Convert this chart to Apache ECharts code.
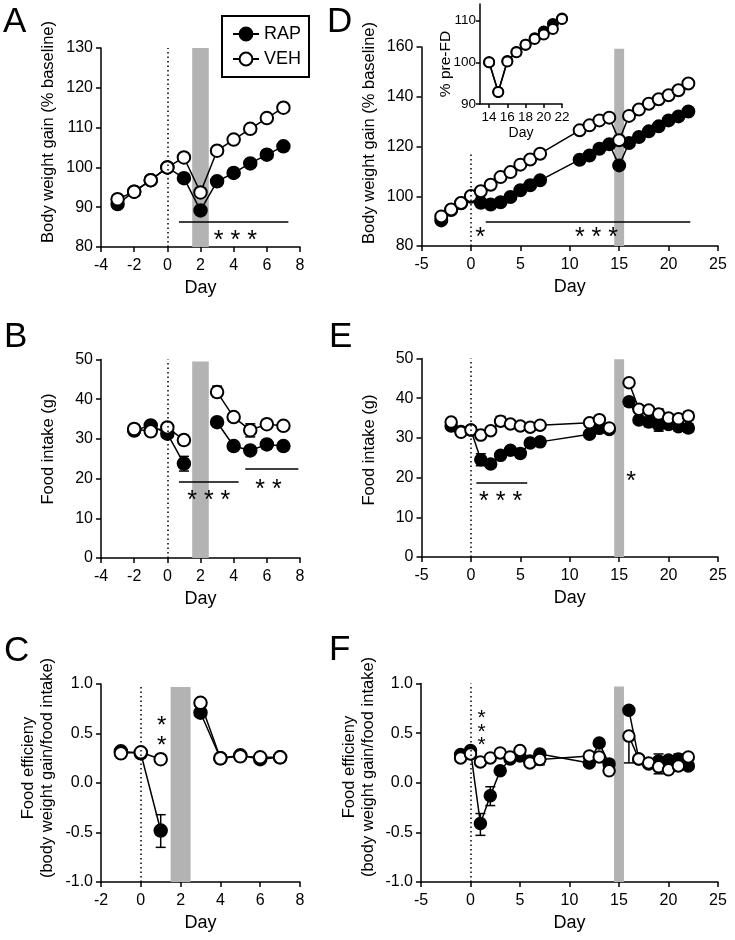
<!DOCTYPE html>
<html><head><meta charset="utf-8">
<script src="https://cdn.jsdelivr.net/npm/echarts@6/dist/echarts.min.js"></script>
<style>html,body{margin:0;padding:0;background:#fff}#c{width:735px;height:940px}</style>
</head><body><div id="c"></div><script>
// ---------- data ----------
const daysA = [-3,-2,-1,0,1,2,3,4,5,6,7];
const rapA  = [90.8,93.9,96.8,100,97.3,89.2,96.5,98.6,101,103.2,105.3];
const vehA  = [92.0,93.9,96.8,100,102.5,93.7,104.2,107,109.7,112.4,115];

const daysD = [-3,-2,-1,0,1,2,3,4,5,6,7,11,12,13,14,15,16,17,18,19,20,21,22];
const rapD  = [90.3,94.5,97.2,99.8,97.4,96.7,97.6,99.7,102.4,104.4,106.4,114.7,116.4,119.1,120.9,112.4,121.4,123.8,126.1,128.1,130.5,132.1,134.1];
const vehD  = [91.9,94.7,97.3,100.1,102,104.6,107.7,109.7,112.7,114.8,117.1,126.5,128.5,130.5,131.6,122.5,132.3,134.9,137.2,139,140.6,142.6,145.3];

const daysIn = [14,15,16,17,18,19,20,21,22];
const rapIn  = [100,92.9,100.3,102.5,104.2,105.8,107.4,109.2,110.5];
const vehIn  = [100,92.9,100.2,102.4,104.2,105.6,106.7,108,110.4];

const daysB = [-2,-1,0,1,2,3,4,5,6,7];
const rapB  = [32.1,33.4,31.3,23.8,null,34.2,28.2,27.1,28.6,28.2];
const vehB  = [32.5,31.9,32.9,29.7,null,41.8,35.5,32.2,33.7,33.3];
const rapErrB = [[1,21.9,25.6],[6,27.4,29.6]];
const vehErrB = [[1,28.6,30.9],[3,40.6,43.3],[5,30.5,33.8],[6,32.7,34.7]];

const daysE = [-2,-1,0,1,2,3,4,5,6,7,12,13,14,15,16,17,18,19,20,21,22];
const rapE  = [33.0,31.6,32.0,24.5,23.4,25.6,26.9,26.1,28.7,29.0,30.9,32.4,32.1,null,39.1,34.5,34.0,33.2,33.4,32.8,32.5];
const vehE  = [34.0,31.4,32.0,30.7,31.8,34.2,33.5,33.0,32.7,33.2,33.8,34.6,32.5,null,43.9,37.2,37.0,36.0,35.0,34.8,35.5];
const rapErrE = [[1,23,26],[5,25.1,27.1],[16,38,40.1],[18,32.8,35.2],[19,31.7,34.7],[21,31.8,33.8],[22,31.4,33.6]];
const vehErrE = [[3,33,35.4],[18,36.1,37.9],[19,34.7,37.3],[22,34.4,36.6]];

const daysC = [-1,0,1,2,3,4,5,6,7];
const rapC  = [0.32,0.30,-0.48,null,0.71,0.25,0.28,0.24,0.26];
const vehC  = [0.30,0.31,0.24,null,0.81,0.25,0.27,0.26,0.26];
const rapErrC = [[1,-0.65,-0.32]];
const vehErrC = [];

const daysF = [-1,0,1,2,3,4,5,6,7,12,13,14,15,16,17,18,19,20,21,22];
const rapF  = [0.285,0.325,-0.41,-0.13,0.12,0.24,0.27,0.22,0.29,0.20,0.40,0.19,null,0.73,0.24,0.19,0.22,0.23,0.24,0.17];
const vehF  = [0.25,0.29,0.21,0.25,0.30,0.26,0.325,0.20,0.235,0.27,0.26,0.12,null,0.47,0.24,0.20,0.16,0.13,0.17,0.26];
const rapErrF = [[1,-0.53,-0.31],[2,-0.23,-0.04],[19,0.15,0.29],[21,0.19,0.29]];
const vehErrF = [[7,0.18,0.235],[16,0.2,0.47],[19,0.09,0.156]];

// annotation values: significance bars [x0,x1,y] and asterisks [x,y,text] (text rows split by \n)
const sigA = [[0.7,7.3,86.4]];   const starA = [[4.1,83.6,'* * *']];
const sigD = [[1.5,22.2,89.8]];  const starD = [[0.95,86.3,'*'],[12.7,86.3,'* * *']];
const sigB = [[0.7,4.3,19.2],[4.7,7.9,22.4]]; const starB = [[2.5,16.4,'* * *'],[6.1,19.0,'* *']];
const sigE = [[0.55,5.7,18.7]];  const starE = [[3.0,15.8,'* * *'],[16.2,20.8,'*']];
const sigC = [];  const starC = [[1.05,0.55,'*\n*']];
const sigF = [];  const starF = [[1.12,0.58,'*\n*\n*']];

// ---------- helpers ----------
const FF = '"Liberation Sans", Arial, sans-serif';
const pairs = (d, v) => d.map((x, i) => [x, v[i] == null ? '-' : v[i]]);

const panels = [
  {id:'A', grid:{left:101, top:48, width:199, height:199}, x:[-4,8,2], y:[80,130,10], days:daysA, rap:rapA, veh:vehA, re:[], ve:[], sig:sigA, star:starA, band:[1.5,2.5,130], dot:130, sym:12.5},
  {id:'D', grid:{left:421.5, top:47, width:296.5, height:199}, x:[-5,25,5], y:[80,160,20], days:daysD, rap:rapD, veh:vehD, re:[], ve:[], sig:sigD, star:starD, band:[14.5,15.5,159.3], dot:117, sym:12},
  {id:'B', grid:{left:101, top:359.5, width:199, height:198.5}, x:[-4,8,2], y:[0,50,10], days:daysB, rap:rapB, veh:vehB, re:rapErrB, ve:vehErrB, sig:sigB, star:starB, band:[1.5,2.5,49.5], dot:50, sym:12.5},
  {id:'E', grid:{left:421.5, top:358.5, width:296.5, height:198.5}, x:[-5,25,5], y:[0,50,10], days:daysE, rap:rapE, veh:vehE, re:rapErrE, ve:vehErrE, sig:sigE, star:starE, band:[14.5,15.5,49.8], dot:50, sym:11.5},
  {id:'C', grid:{left:101, top:684, width:199, height:198}, x:[-2,8,2], y:[-1,1,0.5], days:daysC, rap:rapC, veh:vehC, re:rapErrC, ve:vehErrC, sig:sigC, star:starC, band:[1.5,2.5,0.97], dot:0.99, sym:12.5, dec:true, starLH:20, starFS:24},
  {id:'F', grid:{left:421, top:683.5, width:297, height:198.5}, x:[-5,25,5], y:[-1,1,0.5], days:daysF, rap:rapF, veh:vehF, re:rapErrF, ve:vehErrF, sig:sigF, star:starF, band:[14.5,15.5,0.97], dot:1.0, sym:11.5, dec:true, starLH:13.5, starFS:21}
];

const grids = [], xAxes = [], yAxes = [], series = [];

function axisCommon(labelMargin, fs) {
  return {
    axisLine:{show:true, onZero:false, lineStyle:{color:'#000', width:1.5}},
    axisTick:{show:true, length:5, lineStyle:{color:'#000', width:1.5}},
    axisLabel:{color:'#000', fontSize:fs, fontFamily:FF, margin:labelMargin},
    splitLine:{show:false}
  };
}

function errSeries(gi, data, z) {
  return {type:'custom', xAxisIndex:gi, yAxisIndex:gi, data:data, z:z, silent:true, animation:false,
    encode:{x:0, y:[1,2]},
    renderItem:function(params, api){
      const x = api.value(0), lo = api.value(1), hi = api.value(2);
      const p1 = api.coord([x, lo]), p2 = api.coord([x, hi]);
      const w = 5, st = {stroke:'#000', lineWidth:1.5};
      return {type:'group', children:[
        {type:'line', shape:{x1:p1[0], y1:p1[1], x2:p2[0], y2:p2[1]}, style:st},
        {type:'line', shape:{x1:p1[0]-w, y1:p1[1], x2:p1[0]+w, y2:p1[1]}, style:st},
        {type:'line', shape:{x1:p2[0]-w, y1:p2[1], x2:p2[0]+w, y2:p2[1]}, style:st}
      ]};
    }};
}

function lineSeries(name, gi, d, v, filled, size, z) {
  return {type:'line', name:name, xAxisIndex:gi, yAxisIndex:gi, data:pairs(d, v),
    symbol:'circle', symbolSize:size, showSymbol:true, connectNulls:false, z:z,
    lineStyle:{color:'#000', width:1.5},
    itemStyle:{color: filled ? '#000' : '#fff', borderColor:'#000', borderWidth:2},
    emphasis:{disabled:true}, animation:false, silent:true};
}

panels.forEach((p, gi) => {
  grids.push(Object.assign({}, p.grid));
  xAxes.push(Object.assign({type:'value', gridIndex:gi, min:p.x[0], max:p.x[1], interval:p.x[2],
    name:'Day', nameLocation:'middle', nameGap:32,
    nameTextStyle:{color:'#000', fontSize:18, fontFamily:FF}}, axisCommon(11, 16)));
  const ya = Object.assign({type:'value', gridIndex:gi, min:p.y[0], max:p.y[1], interval:p.y[2]}, axisCommon(8, 16));
  if (p.dec) ya.axisLabel.formatter = v => v.toFixed(1);
  yAxes.push(ya);

  // background markers: shaded band + dotted day-0 line + significance bars
  const sigLines = p.sig.map(s => [{coord:[s[0], s[2]]}, {coord:[s[1], s[2]]}]);
  series.push({type:'line', name:'bg'+p.id, xAxisIndex:gi, yAxisIndex:gi, data:[], z:1, silent:true, animation:false,
    markArea:{silent:true, itemStyle:{color:'#b3b3b3'}, data:[[{coord:[p.band[0], p.y[0]]}, {coord:[p.band[1], p.band[2]]}]]},
    markLine:{silent:true, symbol:['none','none'], label:{show:false}, animation:false,
      data:[
        [{coord:[0, p.y[0]], lineStyle:{type:[1.5,3], color:'#000', width:1.5}}, {coord:[0, p.dot]}]
      ].concat(sigLines.map(l => [Object.assign({lineStyle:{type:'solid', color:'#000', width:1.5}}, l[0]), l[1]]))
    }});
  series.push(errSeries(gi, p.re, 2));
  series.push(errSeries(gi, p.ve, 2));
  series.push(lineSeries('RAP', gi, p.days, p.rap, true, p.sym, 3));
  series.push(lineSeries('VEH', gi, p.days, p.veh, false, p.sym, 4));
  // asterisks (glyph centre placed at the given value)
  const stars = p.star;
  const lh = p.starLH || 20;
  const fs = p.starFS || 25;
  series.push({type:'custom', xAxisIndex:gi, yAxisIndex:gi, data:stars.map(s => [s[0], s[1]]), z:6, silent:true, animation:false,
    renderItem:function(params, api){
      const s = stars[params.dataIndex];
      const c = api.coord([s[0], s[1]]);
      const rows = s[2].split('\n');
      const y0 = c[1] - (rows.length - 1) * lh / 2;
      return {type:'group', children: rows.map((r, k) => ({type:'text', x:c[0], y:y0 + k*lh + 0.32*fs,
        style:{text:r, fill:'#000', font:fs + 'px ' + FF,
          align:'center', verticalAlign:'middle', textAlign:'center', textVerticalAlign:'middle'}}))};
    }});
});

// inset (panel D)
const gIn = panels.length;
grids.push({left:480, top:4, width:82, height:100});
xAxes.push(Object.assign({type:'value', gridIndex:gIn, min:13, max:22,
  name:'Day', nameLocation:'middle', nameGap:22, nameTextStyle:{color:'#000', fontSize:14, fontFamily:FF}}, axisCommon(6, 13.5)));
xAxes[gIn].axisTick.length = 4;
xAxes[gIn].axisTick.customValues = [14,16,18,20,22];
xAxes[gIn].axisLabel.customValues = [14,16,18,20,22];
yAxes.push(Object.assign({type:'value', gridIndex:gIn, min:90, max:114, interval:10}, axisCommon(4, 13.5)));
yAxes[gIn].axisTick.length = 4;
yAxes[gIn].axisTick.customValues = [90,100,110];
yAxes[gIn].axisLabel.customValues = [90,100,110];
series.push(lineSeries('RAP', gIn, daysIn, rapIn, true, 10, 3));
series.push(lineSeries('VEH', gIn, daysIn, vehIn, false, 10, 4));

// text annotations (panel letters, y-axis titles)
function txt(t, x, y, size, rot) {
  return {type:'text', x:x, y:y, rotation: rot ? Math.PI/2 : 0, z:10, silent:true,
    style:{text:t, fill:'#000', font: size + 'px ' + FF, align: rot ? 'center' : 'left', verticalAlign:'middle',
      textAlign: rot ? 'center' : 'left', textVerticalAlign:'middle'}};
}
const graphics = [
  txt('A', 3, 22, 35), txt('D', 327, 22, 35), txt('B', 4, 337, 35), txt('E', 329, 337, 35),
  txt('C', 4, 651, 35), txt('F', 329, 650, 35),
  txt('Body weight gain (% baseline)', 48, 132, 16.5, true),
  txt('Body weight gain (% baseline)', 369, 133, 16.5, true),
  txt('Food intake (g)', 48.5, 449, 16.5, true),
  txt('Food intake (g)', 369, 450, 16.5, true),
  txt('Food efficieny', 28.5, 768, 16.5, true),
  txt('(body weight gain/food intake)', 47.5, 768, 16.5, true),
  txt('Food efficieny', 349, 767, 16.5, true),
  txt('(body weight gain/food intake)', 368, 767, 16.5, true),
  txt('% pre-FD', 446, 64, 15.5, true)
];

const chart = echarts.init(document.getElementById('c'), null, {renderer:'canvas'});
chart.setOption({
  animation:false,
  backgroundColor:'#fff',
  legend:{data:['RAP','VEH'], orient:'vertical', left:222, top:16, padding:[9,8,9,10],
    itemWidth:26, itemHeight:16, itemGap:7, borderColor:'#000', borderWidth:2, backgroundColor:'#fff',
    selectedMode:false, textStyle:{fontSize:18, color:'#000', fontFamily:FF}},
  grid:grids, xAxis:xAxes, yAxis:yAxes, series:series, graphic:graphics
});
</script></body></html>
